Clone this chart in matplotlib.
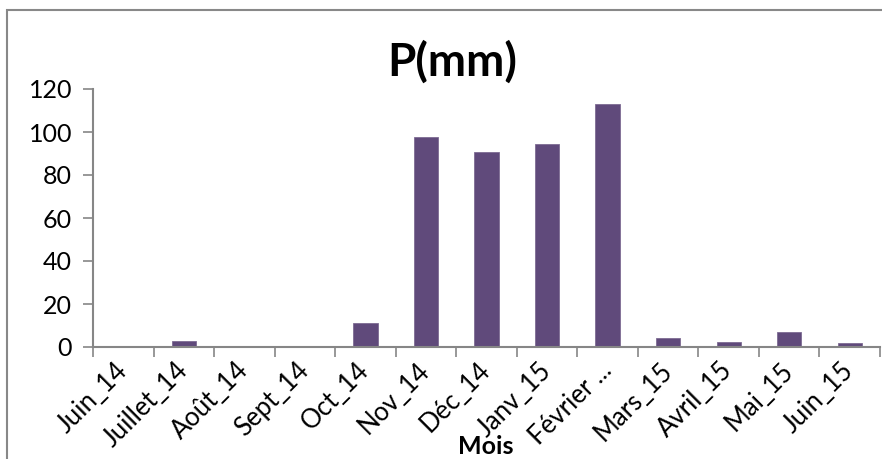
import matplotlib.pyplot as plt
import numpy as np
from matplotlib.patches import Rectangle

months = ["Juin_14", "Juillet_14", "Août_14", "Sept_14", "Oct_14", "Nov_14", "Déc_14",
          "Janv_15", "Février ...", "Mars_15", "Avril_15", "Mai_15", "Juin_15"]
rain_mm = [0.0, 2.8, 0.0, 0.0, 11.2, 97.7, 90.7, 94.4, 113.0, 4.0, 2.2, 7.0, 1.7]

bar_color = "#604a7b"
axis_color = "#868686"
plt.rcParams["font.family"] = ["Lato", "DejaVu Sans"]

fig = plt.figure(figsize=(8.82, 4.59), dpi=100)
ax = fig.add_axes([93 / 882, 1 - 347 / 459, 787 / 882, 258 / 459])

x = np.arange(len(months))
ax.bar(x, rain_mm, width=0.4, color=bar_color, edgecolor="#7d6b93", linewidth=0.6)

ax.set_xlim(-0.5, len(months) - 0.5)
ax.set_ylim(0, 120)
ax.set_yticks(np.arange(0, 121, 20))
ax.tick_params(axis="y", labelsize=18, length=7, width=1.2, color=axis_color, pad=8)

# category labels centred, tick marks on the category boundaries
ax.set_xticks(x)
ax.set_xticklabels(months, rotation=45, ha="right", va="center",
                   rotation_mode="anchor", fontsize=18.5)
ax.tick_params(axis="x", which="major", length=0, pad=14)
ax.set_xticks(np.arange(-0.5, len(months)), minor=True)
ax.tick_params(axis="x", which="minor", length=7, width=1.2, color=axis_color)

for side in ["top", "right"]:
    ax.spines[side].set_visible(False)
for side in ["left", "bottom"]:
    ax.spines[side].set_color(axis_color)
    ax.spines[side].set_linewidth(1.5)

fig.text(452 / 882, 1 - 62 / 459, "P(mm)", fontsize=33, fontweight="bold",
         ha="center", va="center")
fig.text(486 / 882, 1 - 446 / 459, "Mois", fontsize=18, fontweight="bold",
         ha="center", va="center")

# chart area frame
fig.patches.append(Rectangle((7 / 882, -0.1), 1.0, 1 - 10 / 459 + 0.1,
                             transform=fig.transFigure, fill=False,
                             edgecolor="#888888", linewidth=1.5))

fig.savefig("out.png", dpi=100)
